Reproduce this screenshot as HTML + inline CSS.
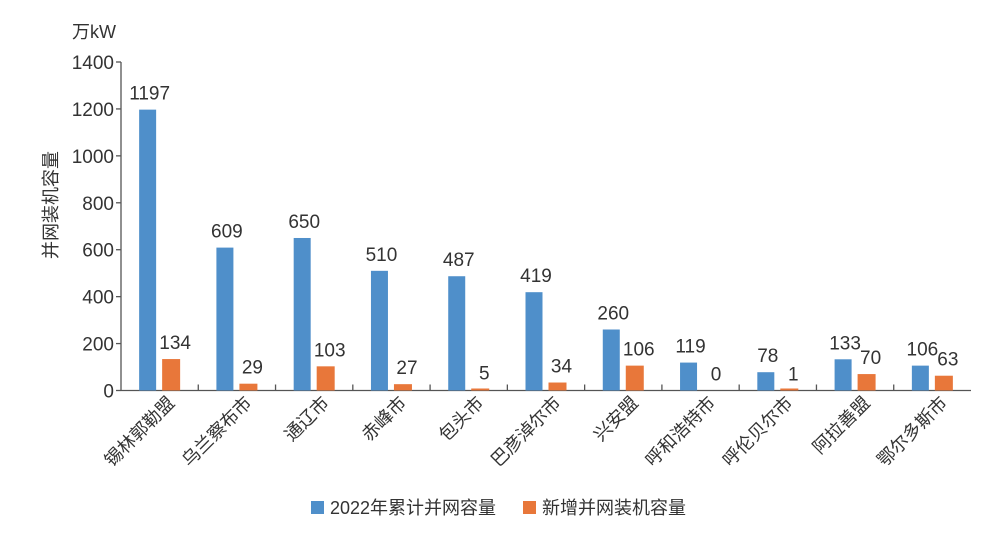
<!DOCTYPE html>
<html><head><meta charset="utf-8"><style>
body{margin:0;background:#fff;}
text{font-family:"Liberation Sans","Noto Sans CJK SC",sans-serif;fill:#333;}
</style></head><body>
<svg id="chart" width="1000" height="530" xmlns="http://www.w3.org/2000/svg"></svg>
<script>
const categories=["锡林郭勒盟","乌兰察布市","通辽市","赤峰市","包头市","巴彦淖尔市","兴安盟","呼和浩特市","呼伦贝尔市","阿拉善盟","鄂尔多斯市"];
const totalValues=[1197,609,650,510,487,419,260,119,78,133,106];
const newValues=[134,29,103,27,5,34,106,0,1,70,63];
const yTicks=[0,200,400,600,800,1000,1200,1400];
const svg=document.getElementById('chart');
const NS="http://www.w3.org/2000/svg";
const x0=121,x1=971,y0=390.5,yTop=62;
const band=(x1-x0)/categories.length;
const y=v=>y0-(v/1400)*(y0-yTop);
function mk(tag,attrs,parent){const e=document.createElementNS(NS,tag);for(const k in attrs)e.setAttribute(k,attrs[k]);(parent||svg).appendChild(e);return e;}
// axes
let ax=mk('line',{x1:x0,y1:yTop,x2:x0,y2:y0,stroke:'#555','stroke-width':1.3});


let bx=mk('line',{x1:x0,y1:y0,x2:x1,y2:y0,stroke:'#555','stroke-width':1.3});


yTicks.forEach(t=>{
 let l=mk('line',{x1:x0-5,y1:y(t),x2:x0,y2:y(t),stroke:'#555','stroke-width':1.3});
 
 
 let tx=mk('text',{x:x0-7,y:y(t)+7,'text-anchor':'end','font-size':19});
 tx.textContent=t;
 
 
});
for(let i=1;i<categories.length;i++){
 let l=mk('line',{x1:x0+band*i,y1:y0-6,x2:x0+band*i,y2:y0,stroke:'#555','stroke-width':1.3});
 
 
}
categories.forEach((c,i)=>{
 const cx=x0+band*i+band/2;
 const bw=17;
 const bxp=cx-20.5, oxp=cx+2.5;
 let b=mk('rect',{x:bxp,y:y(totalValues[i]),width:bw,height:y0-y(totalValues[i]),fill:'#4f8fca'});
 
 
 let oh=Math.max(y0-y(newValues[i]),newValues[i]>0?2:0);
 let o=mk('rect',{x:oxp,y:y0-oh,width:18,height:oh,fill:'#e8773a'});
 
 
 let t1=mk('text',{x:bxp+bw/2+2,y:y(totalValues[i])-10,'text-anchor':'middle','font-size':19});
 t1.textContent=totalValues[i];
 
 
 let t2=mk('text',{x:oxp+9+4,y:y(newValues[i])-10,'text-anchor':'middle','font-size':19});
 t2.textContent=newValues[i];
 
 
 let cl=mk('text',{x:cx+16,y:404,'text-anchor':'end','font-size':18,transform:`rotate(-45 ${cx+16} 404)`});
 cl.textContent=c;
 
 
});
let u=mk('text',{x:72,y:38,'font-size':18});u.textContent='万kW';


let yt=mk('text',{x:57,y:205,'text-anchor':'middle','font-size':18,transform:'rotate(-90 57 205)'});yt.textContent='并网装机容量';


let g=mk('g',{});


let r1=mk('rect',{x:311,y:501,width:13,height:13,fill:'#4f8fca'},g);


let l1=mk('text',{x:330,y:514,'font-size':18},g);l1.textContent='2022年累计并网容量';


let r2=mk('rect',{x:523,y:501,width:13,height:13,fill:'#e8773a'},g);


let l2=mk('text',{x:542,y:514,'font-size':18},g);l2.textContent='新增并网装机容量';


</script>
</body></html>
